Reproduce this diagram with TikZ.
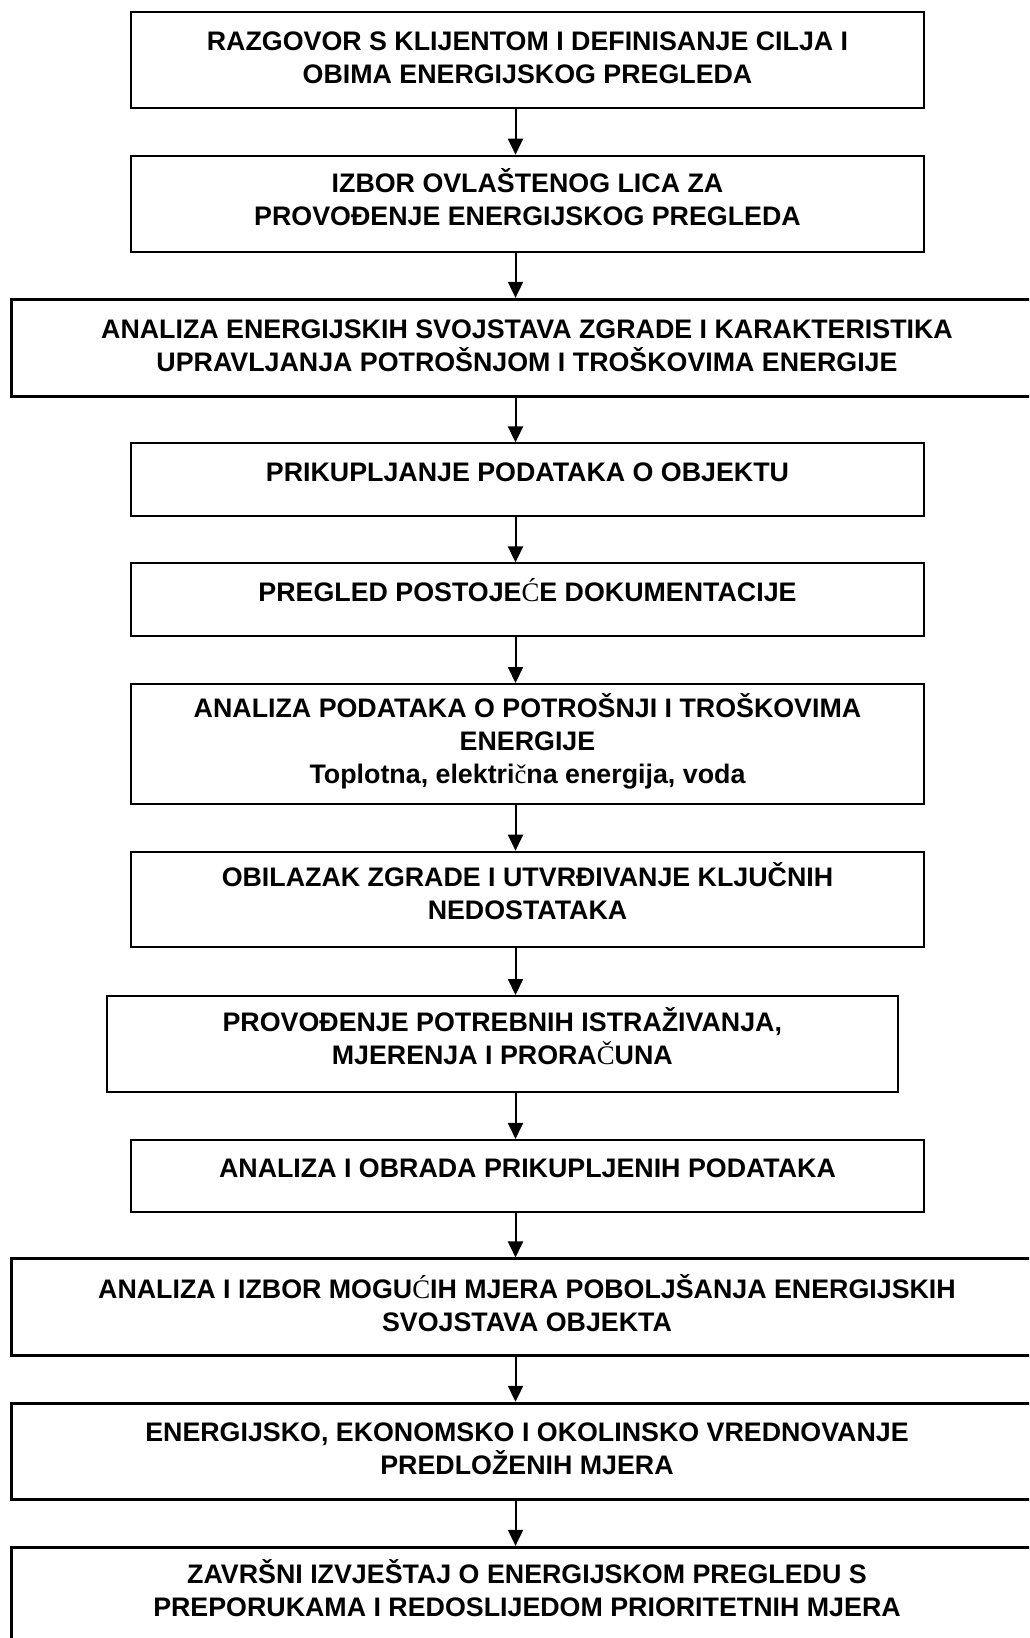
\documentclass[tikz,border=0pt]{standalone}
\usepackage{fontspec}
\setmainfont{Liberation Sans}
\newfontfamily\oddfont{Liberation Serif}
\newcommand{\oddch}[1]{{\oddfont\mdseries #1}}
% even first lines, and a little lift from below
\newcommand{\topline}[1]{\smash{#1}\vphantom{I}}
\newcommand{\lastline}[2][8pt]{#2\rule[-#1]{0pt}{#1}}
\usetikzlibrary{arrows.meta}

\tikzset{
  stage/.style={draw, line width=2pt, align=center, inner sep=0pt,
    font=\bfseries\fontsize{26.8}{33}\selectfont},
  widestage/.style={stage, line width=3pt, minimum width=1032pt},
  oneline/.style={text height=19.2pt, text depth=16pt},
  flow/.style={-{Triangle[length=16pt,width=15pt]}, line width=2pt}
}

\begin{document}
\begin{tikzpicture}[x=1pt,y=-1pt]
\useasboundingbox (0,0) rectangle (1029,1638);
\clip (0,0) rectangle (1029,1638);
\coordinate (axis) at (515.5,0);

% steps of the energy audit
\node[stage, minimum width=793pt, minimum height=96pt] (s1) at (527.5,59.7)
  {\topline{RAZGOVOR S KLIJENTOM I DEFINISANJE CILJA I}\\\lastline[3pt]{OBIMA ENERGIJSKOG PREGLEDA}};
\node[stage, minimum width=793pt, minimum height=96pt] (s2) at (527.5,203.7)
  {\topline{IZBOR OVLAŠTENOG LICA ZA}\\\lastline{PROVOĐENJE ENERGIJSKOG PREGLEDA}};
\node[widestage, minimum height=96.7pt] (s3) at (527,347.7)
  {\topline{ANALIZA ENERGIJSKIH SVOJSTAVA ZGRADE I KARAKTERISTIKA}\\\lastline[4pt]{UPRAVLJANJA POTROŠNJOM I TROŠKOVIMA ENERGIJE}};
\node[stage, oneline, minimum width=793pt, minimum height=72.4pt] (s4) at (527.5,479.5)
  {PRIKUPLJANJE PODATAKA O OBJEKTU};
\node[stage, oneline, minimum width=793pt, minimum height=72.4pt] (s5) at (527.5,599.5)
  {PREGLED POSTOJE\oddch{Ć}E DOKUMENTACIJE};
\node[stage, minimum width=793pt, minimum height=120pt] (s6) at (527.5,744)
  {\topline{ANALIZA PODATAKA O POTROŠNJI I TROŠKOVIMA}\\ENERGIJE\\Toplotna, elektri\oddch{č}na energija, voda};
\node[stage, minimum width=793pt, minimum height=95.6pt] (s7) at (527.5,899.5)
  {\topline{OBILAZAK ZGRADE I UTVRĐIVANJE KLJUČNIH}\\\lastline[12pt]{NEDOSTATAKA}};
\node[stage, minimum width=790.6pt, minimum height=96pt] (s8) at (502.3,1044)
  {\topline{PROVOĐENJE POTREBNIH ISTRAŽIVANJA,}\\\lastline[10pt]{MJERENJA I PRORA\oddch{Č}UNA}};
\node[stage, oneline, minimum width=793pt, minimum height=71.7pt] (s9) at (527.5,1175.8)
  {ANALIZA I OBRADA PRIKUPLJENIH PODATAKA};
\node[widestage, minimum height=96.7pt] (s10) at (527,1307.3)
  {\topline{ANALIZA I IZBOR MOGU\oddch{Ć}IH MJERA POBOLJŠANJA ENERGIJSKIH}\\\lastline[4pt]{SVOJSTAVA OBJEKTA}};
\node[widestage, minimum height=96pt] (s11) at (527,1451.3)
  {\topline{ENERGIJSKO, EKONOMSKO I OKOLINSKO VREDNOVANJE}\\\lastline[6pt]{PREDLOŽENIH MJERA}};
\node[widestage, minimum height=96.7pt] (s12) at (527,1595.7)
  {\topline{ZAVRŠNI IZVJEŠTAJ O ENERGIJSKOM PREGLEDU S}\\\lastline[10pt]{PREPORUKAMA I REDOSLIJEDOM PRIORITETNIH MJERA}};

% arrows
\foreach \a/\b in {s1/s2,s2/s3,s3/s4,s4/s5,s5/s6,s6/s7,s7/s8,s8/s9,s9/s10,s10/s11,s11/s12}
  \draw[flow] (\a.south -| axis) -- (\b.north -| axis);
\end{tikzpicture}
\end{document}
